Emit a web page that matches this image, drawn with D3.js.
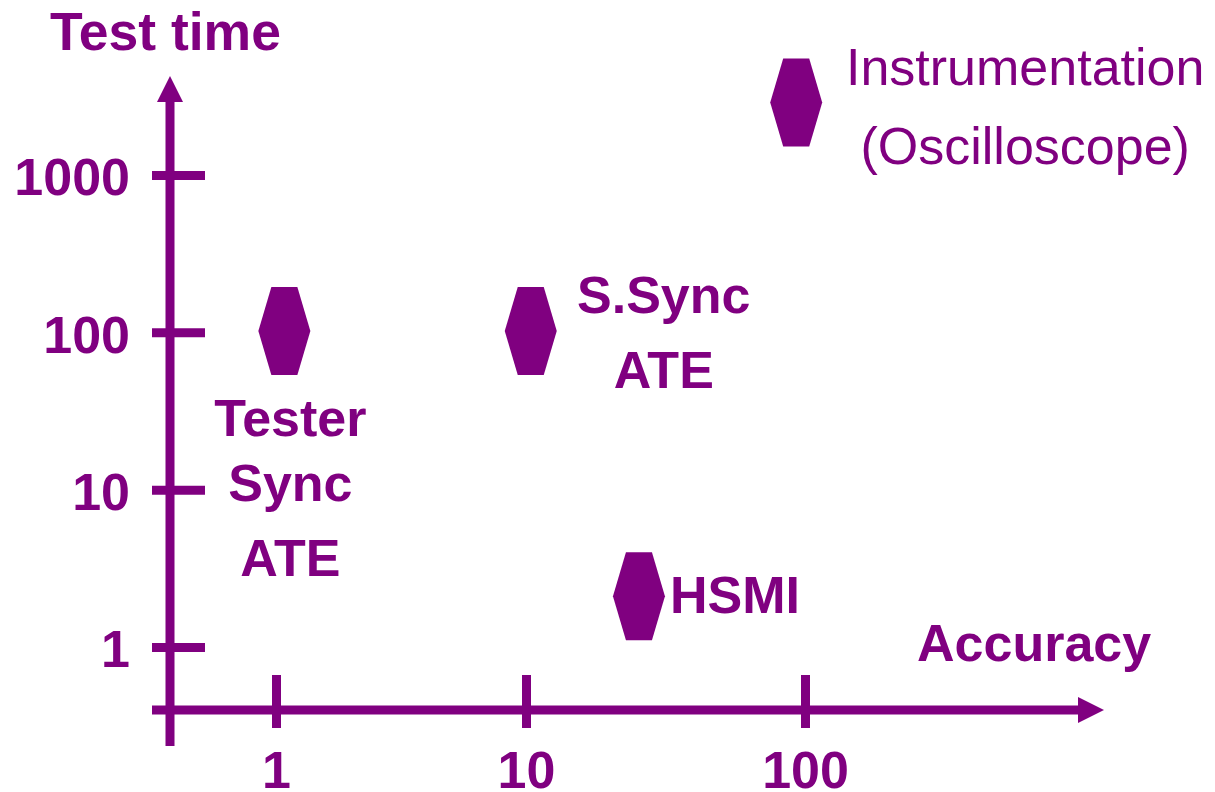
<!DOCTYPE html>
<html>
<head>
<meta charset="utf-8">
<script src="https://cdn.jsdelivr.net/npm/d3@7"></script>
<style>
  body { margin: 0; background: #fff; }
  text { font-family: "Liberation Sans", Arial, sans-serif; fill: #800080; }
</style>
</head>
<body>
<svg></svg>
<script>
const WIDTH = 1215;
const HEIGHT = 792;
const PURPLE = '#800080';

// data
const names = ['Tester Sync ATE', 'S.Sync ATE', 'HSMI', 'Instrumentation (Oscilloscope)'];
const accuracy = [1.08, 10.4, 25.4, 93];
const testTime = [102, 102, 2.1, 2890];
const labelLines = [['Tester', 'Sync', 'ATE'], ['S.Sync', 'ATE'], ['HSMI'], ['Instrumentation', '(Oscilloscope)']];
const xTicks = [1, 10, 100];
const yTicks = [1, 10, 100, 1000];

// label placement relative to each marker (dx, dy of each line baseline)
const labelLayout = [
    { dx: 6,   dys: [105, 170, 245], anchor: 'middle', weight: 'bold' },
    { dx: 133, dys: [-18, 57],       anchor: 'middle', weight: 'bold' },
    { dx: 31,  dys: [17],            anchor: 'start',  weight: 'bold' },
    { dx: 229, dys: [-17, 62],       anchor: 'middle', weight: 'normal' }
];

const AXIS_X = 170;   // where the y axis sits
const AXIS_Y = 710;   // where the x axis sits

const svg = d3.select('svg')
    .attr('width', WIDTH)
    .attr('height', HEIGHT);

// x is a log scale, but the decades are not quite equally wide in the picture
const xScale = d3.scaleLog().domain([1, 10, 100]).range([276, 526, 805]);
const yScale = d3.scaleLog().domain([1, 1000]).range([647, 175]);

// ---- y axis ----
const leftAxis = d3.axisLeft(yScale)
    .tickValues(yTicks)
    .tickFormat(d3.format('d'));
const gy = svg.append('g').attr('id', 'left-axis')
    .attr('transform', 'translate(' + AXIS_X + ',0)')
    .call(leftAxis);
gy.select('.domain').remove();
gy.selectAll('.tick line')   // ticks cross the axis
    .attr('x1', -18).attr('x2', 35)
    .attr('stroke', PURPLE).attr('stroke-width', 9);
gy.selectAll('.tick text')
    .attr('x', -40).attr('dy', '0.38em')
    .attr('font-size', 52).attr('font-weight', 'bold')
    .attr('font-family', '"Liberation Sans", Arial, sans-serif')
    .attr('fill', PURPLE);

// ---- x axis ----
const bottomAxis = d3.axisBottom(xScale)
    .tickValues(xTicks)
    .tickFormat(d3.format('d'));
const gx = svg.append('g').attr('id', 'bottom-axis')
    .attr('transform', 'translate(0,' + AXIS_Y + ')')
    .call(bottomAxis);
gx.select('.domain').remove();
gx.selectAll('.tick line')
    .attr('y1', -35).attr('y2', 18)
    .attr('stroke', PURPLE).attr('stroke-width', 9);
gx.selectAll('.tick text')
    .attr('y', 78).attr('dy', 0)
    .attr('font-size', 52).attr('font-weight', 'bold')
    .attr('font-family', '"Liberation Sans", Arial, sans-serif')
    .attr('fill', PURPLE);

// axis lines with arrow heads
svg.append('line')
    .attr('x1', AXIS_X).attr('y1', 746).attr('x2', AXIS_X).attr('y2', 100)
    .attr('stroke', PURPLE).attr('stroke-width', 9);
svg.append('path')
    .attr('d', d3.line()([[AXIS_X - 13, 102], [AXIS_X, 76], [AXIS_X + 13, 102]]) + 'Z')
    .attr('fill', PURPLE);
svg.append('line')
    .attr('x1', 152).attr('y1', AXIS_Y).attr('x2', 1080).attr('y2', AXIS_Y)
    .attr('stroke', PURPLE).attr('stroke-width', 9);
svg.append('path')
    .attr('d', d3.line()([[1078, AXIS_Y - 13], [1104, AXIS_Y], [1078, AXIS_Y + 13]]) + 'Z')
    .attr('fill', PURPLE);

// axis titles
svg.append('text')
    .attr('x', 50).attr('y', 50)
    .attr('font-size', 53.5).attr('font-weight', 'bold')
    .text('Test time');
svg.append('text')
    .attr('x', 917).attr('y', 661)
    .attr('font-size', 52).attr('font-weight', 'bold')
    .text('Accuracy');

// ---- markers: hexagons pointed left/right ----
function hexagon(cx, cy) {
    const w = 26, h = 44, e = 13;
    return d3.line()([
        [cx - e, cy - h], [cx + e, cy - h], [cx + w, cy],
        [cx + e, cy + h], [cx - e, cy + h], [cx - w, cy]
    ]) + 'Z';
}

const data = names.map(function(n, i) {
    return { name: n, x: accuracy[i], y: testTime[i], lines: labelLines[i], layout: labelLayout[i] };
});

svg.selectAll('path.marker')
    .data(data)
    .enter()
    .append('path')
    .attr('class', 'marker')
    .attr('d', function(d) { return hexagon(xScale(d.x), yScale(d.y)); })
    .attr('fill', PURPLE);

// labels
const labels = svg.selectAll('text.label')
    .data(data)
    .enter()
    .append('text')
    .attr('class', 'label')
    .attr('font-size', 52)
    .attr('font-weight', function(d) { return d.layout.weight; })
    .attr('text-anchor', function(d) { return d.layout.anchor; });
labels.selectAll('tspan')
    .data(function(d) {
        return d.lines.map(function(l, i) { return { text: l, d: d, i: i }; });
    })
    .enter()
    .append('tspan')
    .attr('x', function(t) { return xScale(t.d.x) + t.d.layout.dx; })
    .attr('y', function(t) { return yScale(t.d.y) + t.d.layout.dys[t.i]; })
    .text(function(t) { return t.text; });
</script>
</body>
</html>
